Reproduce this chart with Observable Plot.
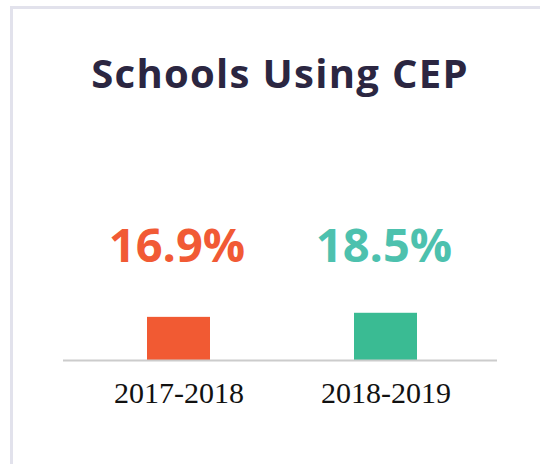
<!DOCTYPE html>
<html>
<head>
<meta charset="utf-8">
<script src="https://cdn.jsdelivr.net/npm/d3@7"></script>
<script src="https://cdn.jsdelivr.net/npm/@observablehq/plot@0.6"></script>
<style>
  html, body { margin: 0; padding: 0; background: #fff; }
  #wrap { position: relative; width: 540px; height: 464px; overflow: hidden; }
  #frame { position: absolute; left: 10px; top: 6px; width: 700px; height: 700px;
           border-left: 3px solid #e2e2ec; border-top: 3px solid #e2e2ec; }
  #title { position: absolute; left: 63px; width: 434px; top: 53px; text-align: center;
           font-family: "Open Sans", sans-serif; font-weight: 700; font-size: 40px; line-height: 40px;
           letter-spacing: 1.3px; color: #2b2641; margin: 0; white-space: nowrap; }
  #chart { position: absolute; left: 0; top: 120px; }
</style>
</head>
<body>
<div id="wrap">
  <div id="frame"></div>
  <h2 id="title">Schools Using CEP</h2>
  <div id="chart"></div>
</div>
<script>
const years = ["2017-2018", "2018-2019"];
const shares = [16.9, 18.5];
const barColors = ["#f15a33", "#3abb93"];
const labelColors = ["#f15a35", "#4dc1ae"];

const data = years.map((y, i) => ({year: y, share: shares[i], bar: barColors[i], label: labelColors[i]}));

const chart = Plot.plot({
  width: 540,
  height: 344,
  marginLeft: 63,
  marginRight: 40,
  marginTop: 143,
  marginBottom: 104,
  x: {domain: years, paddingInner: 0.697, paddingOuter: 0.4, label: null},
  y: {domain: [0, 38], axis: null},
  marks: [
    Plot.barY(data, {x: "year", y: "share", fill: "bar"}),
    Plot.ruleY([0], {stroke: "#cccccc", strokeWidth: 2, insetRight: 3}),
    Plot.text(data, {
      x: "year", frameAnchor: "top", lineAnchor: "bottom", dx: -2, dy: -2,
      text: d => d.share.toFixed(1) + "%",
      fill: "label", fontSize: 47, fontWeight: 700, fontFamily: "'Open Sans', sans-serif"
    }),
    Plot.axisX({tickSize: 0, tickPadding: 21, fontSize: 30, fontFamily: "'Liberation Serif', serif", color: "#111", label: null})
  ],
  style: {background: "transparent", overflow: "visible"}
});
document.getElementById("chart").appendChild(chart);
</script>
</body>
</html>
